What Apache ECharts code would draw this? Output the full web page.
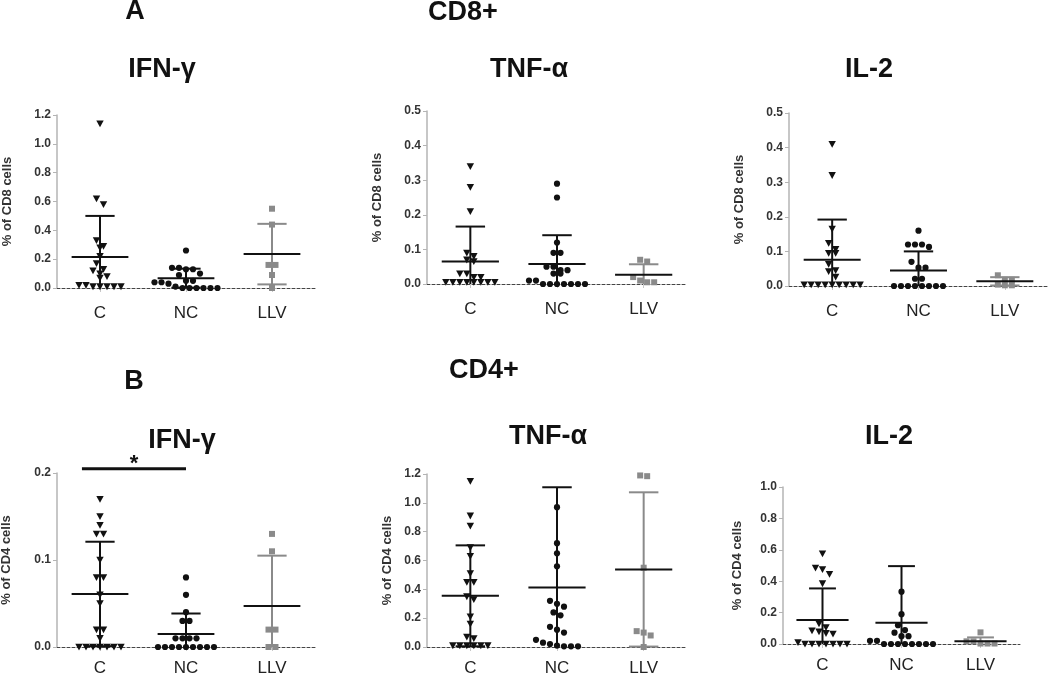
<!DOCTYPE html>
<html>
<head>
<meta charset="utf-8">
<title>CD8+ / CD4+ cytokine responses</title>
<script src="https://cdn.jsdelivr.net/npm/echarts@6/dist/echarts.min.js"></script>
<style>
  html, body { margin: 0; padding: 0; background: #ffffff; }
  #chart { width: 1050px; height: 678px; }
</style>
</head>
<body>
<div id="chart"></div>
<script>
// ── Data ─────────────────────────────────────────────────────────────────────

var groups = ['C', 'NC', 'LLV'];

// A — CD8+
var cd8IfnC   = [1.14, 0.62, 0.58, 0.33, 0.29, 0.28, 0.22, 0.17, 0.13, 0.12, 0.10, 0.08, 0.07, 0.02, 0.02, 0.01, 0.01, 0.01, 0.01, 0.01];
var cd8IfnNC  = [0.26, 0.14, 0.14, 0.13, 0.13, 0.10, 0.09, 0.05, 0.05, 0.04, 0.04, 0.03, 0.01, 0, 0, 0, 0, 0, 0];
var cd8IfnLLV = [0.55, 0.44, 0.16, 0.16, 0.09, 0.0];
var cd8IfnMean = [0.215, 0.068, 0.235];
var cd8IfnSD   = [0.285, 0.066, 0.21];

var cd8TnfC   = [0.34, 0.28, 0.21, 0.09, 0.08, 0.07, 0.065, 0.03, 0.03, 0.02, 0.02, 0.005, 0.005, 0.005, 0.005, 0.005, 0.005, 0.005, 0.005];
var cd8TnfNC  = [0.29, 0.25, 0.12, 0.09, 0.09, 0.05, 0.05, 0.04, 0.04, 0.03, 0.03, 0.01, 0.01, 0, 0, 0, 0, 0, 0, 0];
var cd8TnfLLV = [0.07, 0.065, 0.02, 0.01, 0.005, 0.005];
var cd8TnfMean = [0.065, 0.058, 0.027];
var cd8TnfSD   = [0.101, 0.083, 0.03];

var cd8Il2C   = [0.41, 0.32, 0.165, 0.124, 0.106, 0.095, 0.095, 0.063, 0.045, 0.042, 0.026, 0.004, 0.004, 0.004, 0.004, 0.004, 0.004, 0.004, 0.004, 0.004];
var cd8Il2NC  = [0.16, 0.12, 0.12, 0.12, 0.113, 0.07, 0.053, 0.053, 0.021, 0.021, 0, 0, 0, 0, 0, 0, 0, 0];
var cd8Il2LLV = [0.031, 0.018, 0.018, 0.004, 0.002, 0.002];
var cd8Il2Mean = [0.076, 0.045, 0.0135];
var cd8Il2SD   = [0.116, 0.055, 0.012];

// B — CD4+
var cd4IfnC   = [0.17, 0.15, 0.14, 0.13, 0.13, 0.10, 0.08, 0.08, 0.06, 0.05, 0.02, 0.02, 0.01, 0, 0, 0, 0, 0, 0, 0];
var cd4IfnNC  = [0.08, 0.06, 0.04, 0.03, 0.03, 0.01, 0.01, 0.01, 0.01, 0, 0, 0, 0, 0, 0, 0, 0, 0];
var cd4IfnLLV = [0.13, 0.11, 0.02, 0.02, 0, 0];
var cd4IfnMean = [0.061, 0.015, 0.047];
var cd4IfnSD   = [0.06, 0.0235, 0.058];

var cd4TnfC   = [1.15, 0.91, 0.84, 0.69, 0.63, 0.51, 0.45, 0.45, 0.35, 0.33, 0.21, 0.16, 0.07, 0.06, 0.01, 0.01, 0.01, 0.01, 0.01, 0.01];
var cd4TnfNC  = [0.97, 0.72, 0.65, 0.56, 0.32, 0.30, 0.28, 0.24, 0.22, 0.14, 0.12, 0.10, 0.05, 0.03, 0.02, 0.01, 0.005, 0.005, 0.005];
var cd4TnfLLV = [1.19, 1.185, 0.55, 0.11, 0.10, 0.08, 0.0];
var cd4TnfMean = [0.355, 0.413, 0.538];
var cd4TnfSD   = [0.35, 0.695, 0.535];

var cd4Il2C   = [0.575, 0.485, 0.475, 0.445, 0.385, 0.13, 0.105, 0.085, 0.078, 0.068, 0.064, 0.01, 0, 0, 0, 0, 0, 0, 0];
var cd4Il2NC  = [0.333, 0.19, 0.12, 0.089, 0.072, 0.05, 0.05, 0.02, 0.02, 0, 0, 0, 0, 0, 0, 0, 0];
var cd4Il2LLV = [0.074, 0.017, 0.017, 0.003, 0.003, 0.003];
var cd4Il2Mean = [0.153, 0.136, 0.017];
var cd4Il2SD   = [0.201, 0.36, 0.025];

// axis ticks + labels per panel (row A left→right, then row B)
var yMax   = [1.2, 0.5, 0.5, 0.2, 1.2, 1.0];
var yStep  = [0.2, 0.1, 0.1, 0.1, 0.2, 0.2];
var yNames = ['% of CD8 cells', '% of CD8 cells', '% of CD8 cells', '% of CD4 cells', '% of CD4 cells', '% of CD4 cells'];
var panelTitles = ['IFN-γ', 'TNF-α', 'IL-2', 'IFN-γ', 'TNF-α', 'IL-2'];
var rowTitles  = ['CD8+', 'CD4+'];
var rowLetters = ['A', 'B'];

// significance bracket (panel B / IFN-γ : C vs NC)
var sigPair  = [0, 1];
var sigLevel = 0.205;
var sigMark  = '*';

var points = [
  [cd8IfnC, cd8IfnNC, cd8IfnLLV],
  [cd8TnfC, cd8TnfNC, cd8TnfLLV],
  [cd8Il2C, cd8Il2NC, cd8Il2LLV],
  [cd4IfnC, cd4IfnNC, cd4IfnLLV],
  [cd4TnfC, cd4TnfNC, cd4TnfLLV],
  [cd4Il2C, cd4Il2NC, cd4Il2LLV]
];
var means = [cd8IfnMean, cd8TnfMean, cd8Il2Mean, cd4IfnMean, cd4TnfMean, cd4Il2Mean];
var sds   = [cd8IfnSD, cd8TnfSD, cd8Il2SD, cd4IfnSD, cd4TnfSD, cd4Il2SD];

// ── Layout ───────────────────────────────────────────────────────────────────

var FONT = '"Liberation Sans", Arial, Helvetica, sans-serif';
var INK  = '#111111';
var GREY = '#8a8a8a';

var GRIDS = [
  { left: 57,  top: 115, width: 258, height: 173, nameGap: 43, labelMargin: 17 },
  { left: 427, top: 111, width: 260, height: 173, nameGap: 43, labelMargin: 17 },
  { left: 789, top: 113, width: 259, height: 173, nameGap: 43, labelMargin: 17 },
  { left: 57,  top: 473, width: 258, height: 174, nameGap: 44, labelMargin: 13 },
  { left: 427, top: 474, width: 260, height: 173, nameGap: 33, labelMargin: 13 },
  { left: 783, top: 487, width: 237, height: 157, nameGap: 39, labelMargin: 13 }
];

var TITLE_POS = [
  [162, 70], [529, 70], [869, 70],
  [182, 441], [548, 437], [889, 437]
];
var ROW_POS    = [[463, 13], [484, 371]];
var LETTER_POS = [[135, 12], [134, 382]];

// ── Helpers ──────────────────────────────────────────────────────────────────

// Spread points with (nearly) equal values side by side, centred on the column.
function swarmOffsets(values, pxPerUnit, gap, rowTol) {
  var idx = values.map(function (v, i) { return i; });
  idx.sort(function (a, b) { return values[b] - values[a]; });
  var out = [];
  var row = [];
  function flush() {
    row.forEach(function (i, j) { out[i] = (j - (row.length - 1) / 2) * gap; });
    row = [];
  }
  idx.forEach(function (i) {
    if (row.length && (values[row[0]] - values[i]) * pxPerUnit > rowTol) flush();
    row.push(i);
  });
  flush();
  return out;
}

function seg(x1, y1, x2, y2, color, w) {
  return {
    type: 'line',
    shape: { x1: x1, y1: y1, x2: x2, y2: y2 },
    style: { stroke: color, lineWidth: w || 2 }
  };
}

function renderPoint(params, api) {
  var cat = api.value(0);
  var p = api.coord([cat, api.value(1)]);
  var x = p[0] + api.value(2);
  var y = p[1];
  if (cat === 0) {
    return {
      type: 'polygon',
      shape: { points: [[x - 3.7, y - 3.2], [x + 3.7, y - 3.2], [x, y + 3.6]] },
      style: { fill: INK }
    };
  }
  if (cat === 1) {
    return { type: 'circle', shape: { cx: x, cy: y, r: 3.1 }, style: { fill: INK } };
  }
  return { type: 'rect', shape: { x: x - 3, y: y - 3, width: 6, height: 6 }, style: { fill: GREY } };
}

function renderMeanSD(params, api) {
  var cat = api.value(0);
  var mean = api.value(1);
  var sd = api.value(2);
  var band = api.size([1, 0])[0];
  var mid = api.coord([cat, mean]);
  var top = api.coord([cat, mean + sd]);
  var low = mean - sd;
  var bot = api.coord([cat, Math.max(0, low)]);
  var x = mid[0];
  var barColor = cat === 2 ? GREY : INK;
  var capHalf = band * 0.17;
  var meanHalf = band * 0.33;
  var children = [
    seg(x, top[1], x, bot[1], barColor),
    seg(x - capHalf, top[1], x + capHalf, top[1], barColor),
    seg(x - meanHalf, mid[1], x + meanHalf, mid[1], INK)
  ];
  if (low > 0.0005) children.push(seg(x - capHalf, bot[1], x + capHalf, bot[1], barColor));
  return { type: 'group', children: children };
}

function renderSig(params, api) {
  var a = api.coord([api.value(0), api.value(2)]);
  var b = api.coord([api.value(1), api.value(2)]);
  var band = api.size([1, 0])[0];
  var x1 = a[0] - band * 0.21;
  var x2 = b[0];
  return {
    type: 'group',
    children: [
      seg(x1, a[1], x2, a[1], INK, 3),
      {
        type: 'text',
        style: {
          text: sigMark, x: (x1 + x2) / 2, y: a[1] - 5,
          align: 'center', verticalAlign: 'middle',
          textAlign: 'center', textVerticalAlign: 'middle',
          font: 'bold 22px ' + FONT, fill: INK
        }
      }
    ]
  };
}

function headerText(text, pos, size) {
  return {
    type: 'text', x: pos[0], y: pos[1], silent: true,
    style: {
      text: text, fill: INK, font: 'bold ' + size + 'px ' + FONT,
      align: 'center', verticalAlign: 'middle',
      textAlign: 'center', textVerticalAlign: 'middle'
    }
  };
}

// ── Build option ─────────────────────────────────────────────────────────────

var grid = [], xAxis = [], yAxis = [], series = [], graphic = [];

GRIDS.forEach(function (g, p) {
  grid.push({ left: g.left, top: g.top, width: g.width, height: g.height, outerBoundsMode: 'none', containLabel: false });

  xAxis.push({
    type: 'category',
    gridIndex: p,
    data: groups,
    boundaryGap: true,
    axisLine: { show: true, onZero: false, lineStyle: { color: '#444', width: 1, type: [3, 2] } },
    axisTick: { show: true, alignWithLabel: true, length: 4, lineStyle: { color: '#c8c8c8' } },
    axisLabel: { color: '#222', fontSize: 17, fontFamily: FONT, margin: g.labelMargin },
    splitLine: { show: false }
  });

  yAxis.push({
    type: 'value',
    gridIndex: p,
    min: 0,
    max: yMax[p],
    interval: yStep[p],
    name: yNames[p],
    nameLocation: 'middle',
    nameGap: g.nameGap,
    nameTextStyle: { color: '#333', fontSize: 13, fontWeight: 'bold', fontFamily: FONT },
    axisLine: { show: true, lineStyle: { color: '#b4b4b4', width: 1.5 } },
    axisTick: { show: true, length: 4, lineStyle: { color: '#b4b4b4' } },
    axisLabel: {
      color: '#333', fontSize: 12, fontWeight: 'bold', fontFamily: FONT, margin: 6,
      formatter: function (v) { return v.toFixed(1); }
    },
    splitLine: { show: false }
  });

  var pxPerUnit = g.height / yMax[p];
  var pts = [];
  points[p].forEach(function (vals, cat) {
    var offs = swarmOffsets(vals, pxPerUnit, 7, 6.5);
    vals.forEach(function (v, i) { pts.push([cat, v, offs[i]]); });
  });

  series.push({
    type: 'custom', xAxisIndex: p, yAxisIndex: p, silent: true, z: 3,
    encode: { x: 0, y: 1 },
    data: pts,
    renderItem: renderPoint
  });

  series.push({
    type: 'custom', xAxisIndex: p, yAxisIndex: p, silent: true, z: 4,
    encode: { x: 0, y: 1 },
    data: groups.map(function (name, c) { return [c, means[p][c], sds[p][c]]; }),
    renderItem: renderMeanSD
  });

  graphic.push(headerText(panelTitles[p], TITLE_POS[p], 27));
});

series.push({
  type: 'custom', xAxisIndex: 3, yAxisIndex: 3, silent: true, z: 5,
  encode: { x: 0, y: 2 },
  data: [[sigPair[0], sigPair[1], sigLevel]],
  renderItem: renderSig
});

rowTitles.forEach(function (t, r) {
  graphic.push(headerText(t, ROW_POS[r], 27));
  graphic.push(headerText(rowLetters[r], LETTER_POS[r], 27));
});

var chart = echarts.init(document.getElementById('chart'), null, { renderer: 'canvas' });
chart.setOption({
  backgroundColor: '#ffffff',
  animation: false,
  textStyle: { fontFamily: FONT },
  grid: grid,
  xAxis: xAxis,
  yAxis: yAxis,
  series: series,
  graphic: graphic
});
</script>
</body>
</html>
